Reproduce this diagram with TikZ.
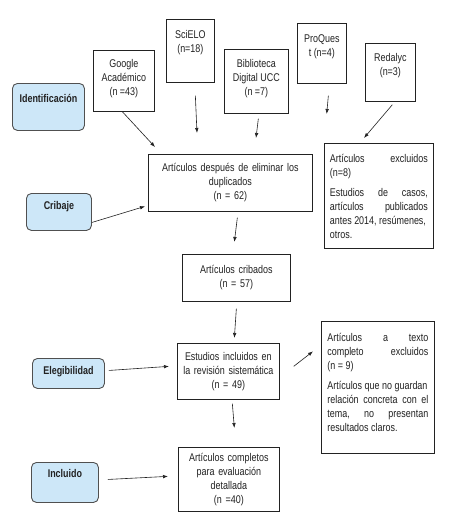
\documentclass[tikz,border=0pt]{standalone}
\usepackage{fontspec}
\setmainfont{Liberation Sans}[FakeStretch=0.8]
\usetikzlibrary{arrows.meta}
\definecolor{flowink}{HTML}{222222}
\definecolor{stagefill}{HTML}{CDE7F8}
\definecolor{stageline}{HTML}{505050}
\newcommand{\toplines}[4]{\parbox[t][#2][t]{#1}{\centering\rule{0pt}{#3}#4}}
\newcommand{\sidelines}[4]{\parbox[t][#2][t]{#1}{\rule{0pt}{#3}#4}}

\begin{document}
\begin{tikzpicture}[x=1pt, y=-1pt,
  every node/.style={font=\fontsize{11.2}{14}\selectfont, text=flowink},
  stage/.style={draw=stageline, fill=stagefill, line width=0.9pt, rounded corners=5pt,
    inner sep=0pt, anchor=north west, font=\bfseries\fontsize{11.2}{14}\selectfont},
  source/.style={draw=flowink, line width=0.7pt, inner sep=0pt, anchor=north west},
  countbox/.style={draw=flowink, line width=0.7pt, inner xsep=2pt, inner ysep=0pt,
    anchor=north west, align=center},
  sidebox/.style={draw=flowink, line width=0.7pt, inner ysep=0pt, anchor=north west},
  flowarrow/.style={flowink, line width=0.6pt, -{Latex[length=5pt,width=3.6pt]}}]

  \fill[white] (0,0) rectangle (455,528);
  \useasboundingbox (0,0) rectangle (455,528);

  \node[stage] (ident) at (12,83) {\toplines{72pt}{47pt}{19pt}{Identificación}};
  \node[stage] (cribaje) at (26,193) {\toplines{65pt}{37pt}{16pt}{Cribaje}};
  \node[stage] (elegib) at (32,358) {\toplines{72pt}{30pt}{16pt}{Elegibilidad}};
  \node[stage] (incluido) at (31,462) {\toplines{67pt}{40pt}{15pt}{Incluido}};

  \node[source] (google) at (93,50) {\toplines{61pt}{61pt}{17pt}{Google\\Académico\\(n =43)}};
  \node[source] (scielo) at (166,19) {\toplines{48pt}{63pt}{19pt}{SciELO\\(n=18)}};
  \node[source] (biblio) at (224,49) {\toplines{64pt}{64pt}{18pt}{Biblioteca\\Digital UCC\\(n =7)}};
  \node[source] (proquest) at (297,23) {\toplines{49pt}{60pt}{19pt}{ProQues\\t (n=4)}};
  \node[source] (redalyc) at (365,43) {\toplines{50pt}{58pt}{18pt}{Redalyc\\(n=3)}};

  \node[countbox, text width=160pt, minimum height=57pt] (dup) at (148,154)
    {Artículos después de eliminar los\\duplicados\\(n = 62)};
  \node[countbox, text width=104pt, minimum height=47pt] (cribados) at (182,254)
    {Artículos cribados\\(n = 57)};
  \node[countbox, text width=98pt, minimum height=56pt] (estudios) at (177,343)
    {Estudios incluidos en\\la revisión sistemática\\(n = 49)};
  \node[countbox, text width=97pt, minimum height=64pt] (final) at (178,447)
    {Artículos completos\\para evaluación\\detallada\\(n =40)};

  \node[sidebox, inner xsep=5.5pt] (excl1) at (324,143) {\sidelines{98pt}{105pt}{19pt}{%
    Artículos\hfill excluidos\\
    (n=8)\\[6pt]
    Estudios\hfill de\hfill casos,\\
    artículos\hfill publicados\\
    antes 2014, resúmenes,\\
    otros.}};
  \node[sidebox, inner xsep=6pt] (excl2) at (321,321) {\sidelines{101pt}{132pt}{20pt}{%
    Artículos\hfill a\hfill texto\\
    completo\hfill excluidos\\
    (n = 9)\\[6pt]
    Artículos que no guardan\\
    relación\hfill concreta\hfill con\hfill el\\
    tema,\hfill no\hfill presentan\\
    resultados claros.}};

  \draw[flowarrow] ([shift={(-1.5,0)}]google.south) -- ([shift={(7,-7)}]dup.north west);
  \draw[flowarrow] ([shift={(5,13)}]scielo.south) -- ([shift={(49,-21)}]dup.north west);
  \draw[flowarrow] ([shift={(2,5)}]biblio.south) -- ([shift={(108,-16)}]dup.north west);
  \draw[flowarrow] ([shift={(6.5,12)}]proquest.south) -- ([shift={(14,-40)}]dup.north east);
  \draw[flowarrow] ([shift={(2,3)}]redalyc.south) -- ([shift={(40,-5)}]excl1.north west);
  \draw[flowarrow] ([shift={(0,10.5)}]cribaje.east) -- ([shift={(-3,23.5)}]dup.west);
  \draw[flowarrow] ([shift={(7,6)}]dup.south) -- ([shift={(-2,-12)}]cribados.north);
  \draw[flowarrow] ([shift={(0,7)}]cribados.south) -- ([shift={(6,-5)}]estudios.north);
  \draw[flowarrow] ([shift={(4,-3)}]elegib.east) -- ([shift={(-8,-5)}]estudios.west);
  \draw[flowarrow] ([shift={(14,-5)}]estudios.east) -- ([shift={(-8,-36)}]excl2.west);
  \draw[flowarrow] ([shift={(4,4)}]estudios.south) -- ([shift={(5.5,-19)}]final.north);
  \draw[flowarrow] ([shift={(9,-3)}]incluido.east) -- ([shift={(-10,-3)}]final.west);

\end{tikzpicture}
\end{document}
